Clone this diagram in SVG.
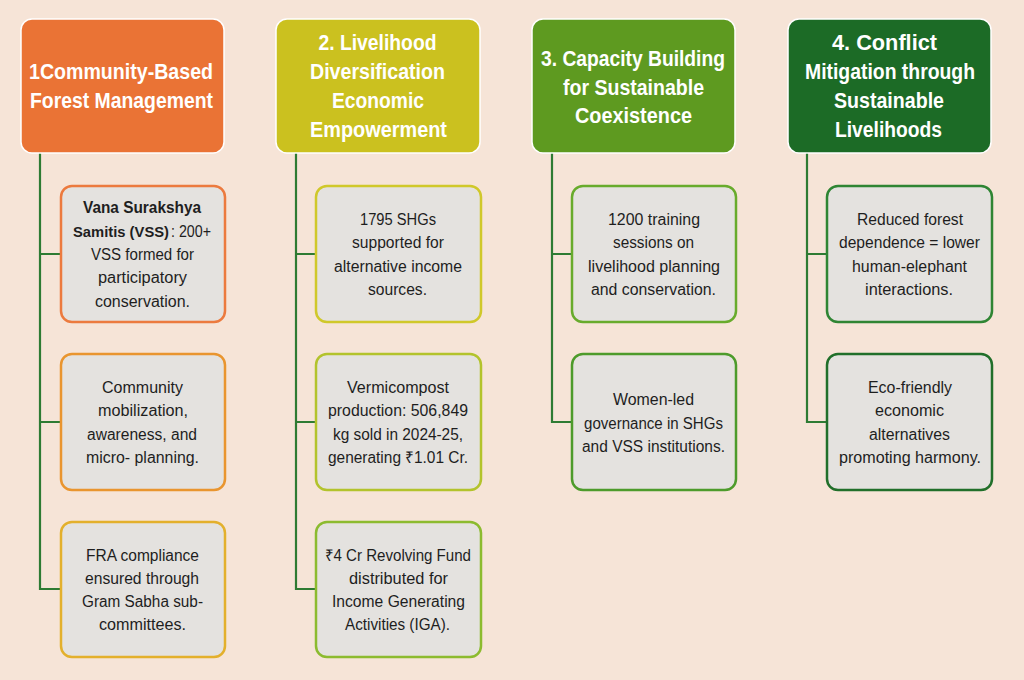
<svg xmlns="http://www.w3.org/2000/svg" width="1024" height="680" viewBox="0 0 1024 680">
<style>
.hd{stroke:#ffffff;stroke-width:1.5}
.ht{font-family:"Liberation Sans",Arial,sans-serif;font-weight:bold;font-size:22px;fill:#ffffff;text-anchor:middle}
.cb{fill:#e4e2df;stroke-width:2.5}
.ct{font-family:"Liberation Sans",Arial,sans-serif;font-size:16px;fill:#1e1e1e;text-anchor:middle}
.st{text-anchor:start}
.b{font-weight:bold}
.cn{fill:none;stroke:#2e7b33;stroke-width:2.2}
</style>
<rect x="0" y="0" width="1024" height="680" fill="#f6e4d7"/>
<g id="connectors">
<path class="cn" d="M40,153 V589 H61 M40,254 H61 M40,422 H61"/>
<path class="cn" d="M296,153 V589 H316 M296,254 H316 M296,422 H316"/>
<path class="cn" d="M552,153 V422 H572 M552,254 H572"/>
<path class="cn" d="M807,153 V422 H827 M807,254 H827"/>
</g>
<g id="h1"><rect class="hd" x="21" y="19" width="203" height="134" rx="11" fill="#ea7335"/>
<text class="ht" x="121" y="79" textLength="184" lengthAdjust="spacingAndGlyphs">1Community-Based</text>
<text class="ht" x="121.5" y="108" textLength="183" lengthAdjust="spacingAndGlyphs">Forest Management</text></g>
<g id="h2"><rect class="hd" x="276" y="19" width="204" height="134" rx="11" fill="#cbc11f"/>
<text class="ht" x="377.5" y="50" textLength="118" lengthAdjust="spacingAndGlyphs">2. Livelihood</text>
<text class="ht" x="377.5" y="79" textLength="135" lengthAdjust="spacingAndGlyphs">Diversification</text>
<text class="ht" x="378" y="108" textLength="92" lengthAdjust="spacingAndGlyphs">Economic</text>
<text class="ht" x="378.5" y="137" textLength="137" lengthAdjust="spacingAndGlyphs">Empowerment</text></g>
<g id="h3"><rect class="hd" x="532" y="19" width="203" height="134" rx="11" fill="#5e9a20"/>
<text class="ht" x="633" y="66" textLength="184" lengthAdjust="spacingAndGlyphs">3. Capacity Building</text>
<text class="ht" x="633.5" y="95" textLength="141" lengthAdjust="spacingAndGlyphs">for Sustainable</text>
<text class="ht" x="633.5" y="123" textLength="117" lengthAdjust="spacingAndGlyphs">Coexistence</text></g>
<g id="h4"><rect class="hd" x="788" y="19" width="203" height="134" rx="11" fill="#1c6b26"/>
<text class="ht" x="884.5" y="50" textLength="105" lengthAdjust="spacingAndGlyphs">4. Conflict</text>
<text class="ht" x="890" y="79" textLength="170" lengthAdjust="spacingAndGlyphs">Mitigation through</text>
<text class="ht" x="889" y="108" textLength="110" lengthAdjust="spacingAndGlyphs">Sustainable</text>
<text class="ht" x="888.5" y="137" textLength="107" lengthAdjust="spacingAndGlyphs">Livelihoods</text></g>

<g id="c1a"><rect class="cb" x="61" y="186" width="164" height="136" rx="11" stroke="#ec7a3e"/>
<text class="ct b" x="142" y="213" textLength="118" lengthAdjust="spacingAndGlyphs">Vana Surakshya</text>
<text class="ct st b" x="73" y="236.5" style="font-size:14.7px" textLength="96" lengthAdjust="spacingAndGlyphs">Samitis (VSS)</text>
<text class="ct st" x="171" y="236.5" textLength="40" lengthAdjust="spacingAndGlyphs">: 200+</text>
<text class="ct" x="142.5" y="260" textLength="103" lengthAdjust="spacingAndGlyphs">VSS formed for</text>
<text class="ct" x="142.5" y="283" textLength="89" lengthAdjust="spacingAndGlyphs">participatory</text>
<text class="ct" x="142.5" y="306.5" textLength="95" lengthAdjust="spacingAndGlyphs">conservation.</text></g>
<g id="c1b"><rect class="cb" x="61" y="354" width="164" height="136" rx="11" stroke="#e9952f"/>
<text class="ct" x="142.5" y="393" textLength="81" lengthAdjust="spacingAndGlyphs">Community</text>
<text class="ct" x="143" y="416" textLength="90" lengthAdjust="spacingAndGlyphs">mobilization,</text>
<text class="ct" x="142" y="439.5" textLength="110" lengthAdjust="spacingAndGlyphs">awareness, and</text>
<text class="ct" x="142.5" y="463" textLength="113" lengthAdjust="spacingAndGlyphs">micro- planning.</text></g>
<g id="c1c"><rect class="cb" x="61" y="522" width="164" height="135" rx="11" stroke="#e3b02c"/>
<text class="ct" x="142.5" y="561" textLength="113" lengthAdjust="spacingAndGlyphs">FRA compliance</text>
<text class="ct" x="142" y="584" textLength="114" lengthAdjust="spacingAndGlyphs">ensured through</text>
<text class="ct" x="142.5" y="607" textLength="121" lengthAdjust="spacingAndGlyphs">Gram Sabha sub-</text>
<text class="ct" x="142.5" y="630" textLength="87" lengthAdjust="spacingAndGlyphs">committees.</text></g>

<g id="c2a"><rect class="cb" x="316" y="186" width="165" height="136" rx="11" stroke="#d0c82a"/>
<text class="ct" x="398" y="225" textLength="76" lengthAdjust="spacingAndGlyphs">1795 SHGs</text>
<text class="ct" x="398" y="248" textLength="92" lengthAdjust="spacingAndGlyphs">supported for</text>
<text class="ct" x="398" y="271.5" textLength="128" lengthAdjust="spacingAndGlyphs">alternative income</text>
<text class="ct" x="397.5" y="295" textLength="59" lengthAdjust="spacingAndGlyphs">sources.</text></g>
<g id="c2b"><rect class="cb" x="316" y="354" width="165" height="136" rx="11" stroke="#b3c32c"/>
<text class="ct" x="398" y="393" textLength="102" lengthAdjust="spacingAndGlyphs">Vermicompost</text>
<text class="ct" x="398" y="416" textLength="140" lengthAdjust="spacingAndGlyphs">production: 506,849</text>
<text class="ct" x="398" y="439.5" textLength="130" lengthAdjust="spacingAndGlyphs">kg sold in 2024-25,</text>
<text class="ct" x="398" y="463" textLength="140" lengthAdjust="spacingAndGlyphs">generating ₹1.01 Cr.</text></g>
<g id="c2c"><rect class="cb" x="316" y="522" width="165" height="135" rx="11" stroke="#8cbb2f"/>
<text class="ct" x="398" y="561" textLength="146" lengthAdjust="spacingAndGlyphs">₹4 Cr Revolving Fund</text>
<text class="ct" x="398.5" y="584" textLength="99" lengthAdjust="spacingAndGlyphs">distributed for</text>
<text class="ct" x="398.5" y="607" textLength="133" lengthAdjust="spacingAndGlyphs">Income Generating</text>
<text class="ct" x="397.5" y="630" textLength="105" lengthAdjust="spacingAndGlyphs">Activities (IGA).</text></g>

<g id="c3a"><rect class="cb" x="572" y="186" width="164" height="136" rx="11" stroke="#68ab2c"/>
<text class="ct" x="654" y="225" textLength="92" lengthAdjust="spacingAndGlyphs">1200 training</text>
<text class="ct" x="653.5" y="248" textLength="81" lengthAdjust="spacingAndGlyphs">sessions on</text>
<text class="ct" x="654" y="271.5" textLength="132" lengthAdjust="spacingAndGlyphs">livelihood planning</text>
<text class="ct" x="653.5" y="295" textLength="125" lengthAdjust="spacingAndGlyphs">and conservation.</text></g>
<g id="c3b"><rect class="cb" x="572" y="354" width="164" height="136" rx="11" stroke="#4d9b2b"/>
<text class="ct" x="653.5" y="405" textLength="81" lengthAdjust="spacingAndGlyphs">Women-led</text>
<text class="ct" x="653.5" y="428.5" textLength="139" lengthAdjust="spacingAndGlyphs">governance in SHGs</text>
<text class="ct" x="653.5" y="452" textLength="143" lengthAdjust="spacingAndGlyphs">and VSS institutions.</text></g>

<g id="c4a"><rect class="cb" x="827" y="186" width="165" height="136" rx="11" stroke="#2f8533"/>
<text class="ct" x="910" y="225" textLength="106" lengthAdjust="spacingAndGlyphs">Reduced forest</text>
<text class="ct" x="909.5" y="248" textLength="141" lengthAdjust="spacingAndGlyphs">dependence = lower</text>
<text class="ct" x="909.5" y="271.5" textLength="115" lengthAdjust="spacingAndGlyphs">human-elephant</text>
<text class="ct" x="909" y="295" textLength="88" lengthAdjust="spacingAndGlyphs">interactions.</text></g>
<g id="c4b"><rect class="cb" x="827" y="354" width="165" height="136" rx="11" stroke="#216f2a"/>
<text class="ct" x="910" y="393" textLength="84" lengthAdjust="spacingAndGlyphs">Eco-friendly</text>
<text class="ct" x="909.5" y="416" textLength="69" lengthAdjust="spacingAndGlyphs">economic</text>
<text class="ct" x="909.5" y="439.5" textLength="81" lengthAdjust="spacingAndGlyphs">alternatives</text>
<text class="ct" x="910" y="463" textLength="142" lengthAdjust="spacingAndGlyphs">promoting harmony.</text></g>
</svg>
